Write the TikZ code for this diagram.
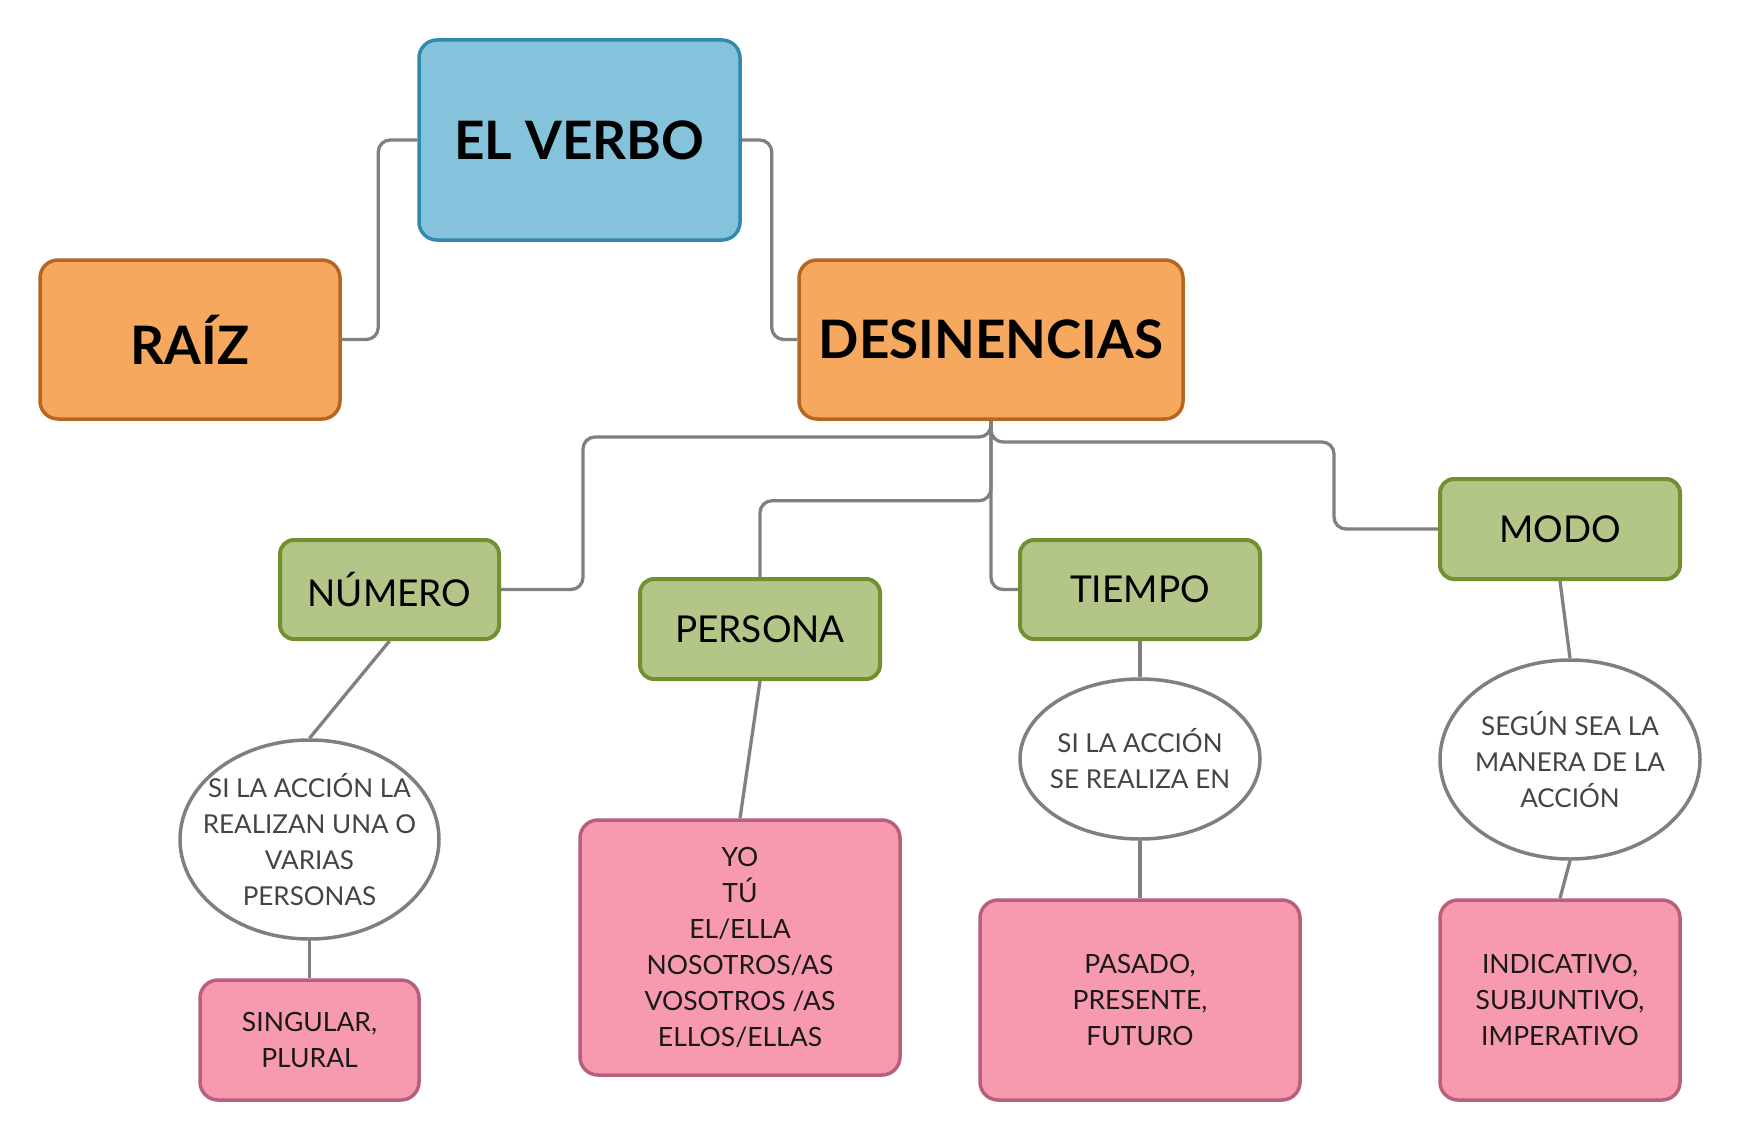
\documentclass[tikz,border=0pt]{standalone}
\usepackage{fontspec}
\setmainfont{Lato}
\usetikzlibrary{shapes.geometric}
\definecolor{blfill}{HTML}{85C2DB}
\definecolor{bldraw}{HTML}{3189AE}
\definecolor{orfill}{HTML}{F6A85E}
\definecolor{ordraw}{HTML}{B7651F}
\definecolor{grfill}{HTML}{B3C688}
\definecolor{grdraw}{HTML}{71912F}
\definecolor{pkfill}{HTML}{F79AB0}
\definecolor{pkdraw}{HTML}{B8607A}
\definecolor{ovdraw}{HTML}{7F7F7F}
\definecolor{ovtext}{HTML}{444444}
\definecolor{lncol}{HTML}{808080}
\begin{document}
\begin{tikzpicture}[x=1pt,y=-1pt,
  box/.style={draw, rounded corners=18pt, line width=3.5pt, inner sep=0pt, align=center},
  bigbox/.style={box, font=\bfseries\fontsize{53}{60}\selectfont},
  topbox/.style={bigbox, fill=blfill, draw=bldraw},
  orbox/.style={bigbox, fill=orfill, draw=ordraw},
  midbox/.style={box, fill=grfill, draw=grdraw, line width=4pt, rounded corners=14pt, font=\fontsize{37}{42}\selectfont, minimum width=240pt, minimum height=100pt},
  leafbox/.style={box, fill=pkfill, draw=pkdraw, text=black!90, font=\fontsize{26.5}{36}\selectfont},
  oval/.style={ellipse, draw=ovdraw, line width=3.5pt, fill=white, inner sep=0pt},
  ovaltext/.style={align=center, inner sep=0pt, text=ovtext, font=\fontsize{26}{36}\selectfont},
  conn/.style={draw=lncol, line width=3.3pt, rounded corners=12pt}
]
\useasboundingbox (0,0) rectangle (1740,1140);

% main nodes
\node[topbox, minimum width=321pt, minimum height=200pt] (verbo) at (579.5,140) {EL VERBO};
\node[orbox, minimum width=300pt, minimum height=159pt] (raiz) at (190,339.5) {RAÍZ};
\node[orbox, minimum width=384pt, minimum height=159pt] (des) at (991,339.5) {DESINENCIAS};

% second level
\node[midbox, minimum width=219pt, minimum height=99pt] (numero) at (389.5,589.5) {NÚMERO};
\node[midbox] (persona) at (760,629) {PERSONA};
\node[midbox, minimum height=99pt] (tiempo) at (1140,589.5) {TIEMPO};
\node[midbox] (modo) at (1560,529) {MODO};

% ellipses
\node[oval, minimum width=259pt, minimum height=199pt] (e1) at (309.5,839.5) {};
\node[ovaltext] (e1t) at (e1.center) {SI LA ACCIÓN LA\\REALIZAN UNA O\\VARIAS\\PERSONAS};
\node[oval, minimum width=240pt, minimum height=160pt] (e2) at (1140,759) {};
\node[ovaltext] (e2t) at (e2.center) {SI LA ACCIÓN\\SE REALIZA EN};
\node[oval, minimum width=260pt, minimum height=199pt] (e3) at (1570,759.5) {};
\node[ovaltext] (e3t) at (e3.center) {SEGÚN SEA LA\\MANERA DE LA\\ACCIÓN};

% leaves
\node[leafbox, minimum width=219pt, minimum height=120pt] (sing) at (309.5,1040) {SINGULAR,\\PLURAL};
\node[leafbox, minimum width=320pt, minimum height=255pt] (yo) at (740,947.5) {YO\\TÚ\\EL/ELLA\\NOSOTROS/AS\\VOSOTROS /AS\\ELLOS/ELLAS};
\node[leafbox, minimum width=320pt, minimum height=200pt] (pas) at (1140,1000) {PASADO,\\PRESENTE,\\FUTURO};
\node[leafbox, minimum width=240pt, minimum height=200pt] (ind) at (1560,1000) {INDICATIVO,\\SUBJUNTIVO,\\IMPERATIVO};

% bend points
\coordinate (jn) at (583,437);
\coordinate (jm) at (1334,442);

% connectors
\draw[conn] (verbo.west) -- ++(-39,0) |- (raiz.east);
\draw[conn] (verbo.east) -- ++(30,0) |- (des.west);
\draw[conn] (des.south) |- (jn) |- (numero.east);
\draw[conn] (des.south) -- ++(0,80) -| (persona.north);
\draw[conn] (des.south) |- (tiempo.west);
\draw[conn] (des.south) |- (jm) |- (modo.west);

\draw[conn] (numero.south) -- (e1.north);
\draw[conn] (e1.south) -- (sing.north);
\draw[conn] (persona.south) -- (yo.north);
\draw[conn] (tiempo.south) -- (e2.north);
\draw[conn] (e2.south) -- (pas.north);
\draw[conn] (modo.south) -- (e3.north);
\draw[conn] (e3.south) -- (ind.north);
\end{tikzpicture}
\end{document}
